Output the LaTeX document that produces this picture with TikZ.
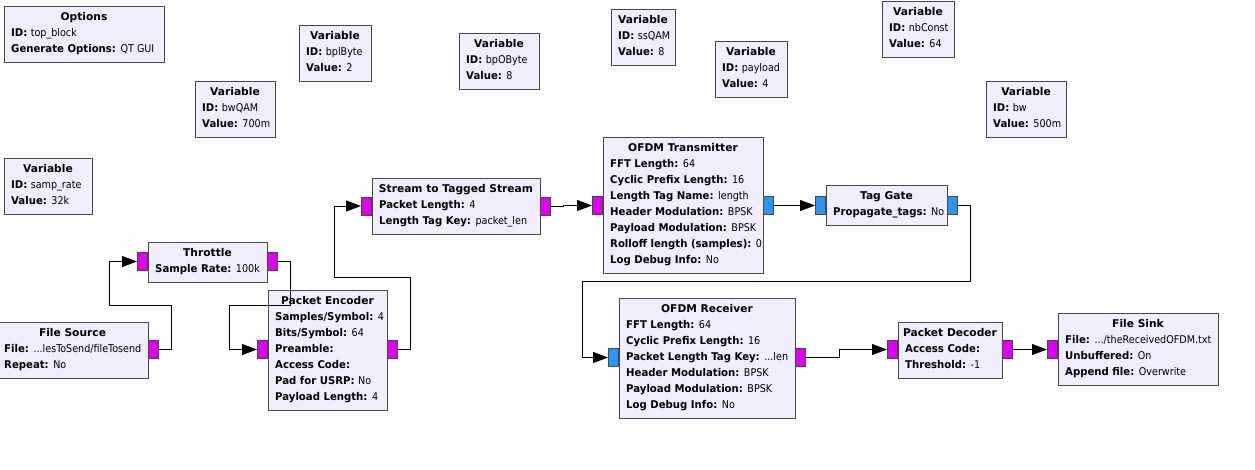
\documentclass[tikz,border=0pt]{standalone}
\usepackage{fontspec}
\setmainfont{DejaVu Sans}
\newfontfamily\valfont{DejaVu Sans Condensed}
\newfontfamily\keyfont{DejaVu Sans}[FakeStretch=0.95]
\usetikzlibrary{arrows.meta}
\definecolor{blkfill}{HTML}{F1EDFF}
\definecolor{blkline}{HTML}{474747}
\definecolor{byteport}{HTML}{DD00EE}
\definecolor{cplxport}{HTML}{2B96F0}
\tikzset{
  blk/.style={draw=blkline, line width=1pt, fill=blkfill, inner sep=0pt},
  ttl/.style={anchor=base, inner sep=0pt, font=\fontsize{10.67pt}{16pt}\selectfont\bfseries},
  bdy/.style={anchor=north west, inner sep=0pt, align=left, font=\fontsize{10.67pt}{16pt}\selectfont},
  port/.style={draw=blkline, line width=1pt, minimum width=10pt, minimum height=18pt, inner sep=0pt},
  bport/.style={port, fill=byteport},
  cport/.style={port, fill=cplxport},
  conn/.style={draw=black, line width=1pt, -{Triangle[length=15pt,width=11pt]}},
}
\newcommand\grcblk[7]{%
  \node[blk, minimum width=#4pt, minimum height=#5pt] (#1) at (#2+#4/2, #3+#5/2) {};
  \node[ttl] (#1-t) at (#2+#4/2, #3+14.5) {#6};
  \node[bdy] (#1-b) at (#2+7, #3+18.5) {\rule{0pt}{12pt}#7};
}
\newcommand\kk[1]{{\keyfont\bfseries #1:}}
\newcommand\kv[2]{\kk{#1} {\valfont #2}}
\begin{document}
\begin{tikzpicture}[x=1pt, y=-1pt]
\useasboundingbox (0,0) rectangle (1255,469);
\fill[white] (0,0) rectangle (1255,469);

% variables / options
\grcblk{opt}{4}{6}{160}{56}{Options}{\kv{ID}{top\_block}\\\kv{Generate Options}{QT GUI}}
\grcblk{vbpl}{299}{25}{72}{56}{Variable}{\kv{ID}{bplByte}\\\kv{Value}{2}}
\grcblk{vbwq}{195}{81}{80}{56}{Variable}{\kv{ID}{bwQAM}\\\kv{Value}{700m}}
\grcblk{vsr}{4}{158}{88}{56}{Variable}{\kv{ID}{samp\_rate}\\\kv{Value}{32k}}
\grcblk{vbpo}{459}{33}{80}{56}{Variable}{\kv{ID}{bpOByte}\\\kv{Value}{8}}
\grcblk{vss}{611}{9}{64}{56}{Variable}{\kv{ID}{ssQAM}\\\kv{Value}{8}}
\grcblk{vpl}{715}{41}{72}{56}{Variable}{\kv{ID}{payload}\\\kv{Value}{4}}
\grcblk{vnb}{882}{1}{72}{56}{Variable}{\kv{ID}{nbConst}\\\kv{Value}{64}}
\grcblk{vbw}{986}{81}{80}{56}{Variable}{\kv{ID}{bw}\\\kv{Value}{500m}}

% processing blocks
\grcblk{fs}{-3}{322}{151}{56}{File Source}{\kv{File}{...lesToSend/fileTosend}\\\kv{Repeat}{No}}
\grcblk{thr}{148}{242}{119}{40}{Throttle}{\kv{Sample Rate}{100k}}
\grcblk{pe}{268}{290}{119}{120}{Packet Encoder}{\kv{Samples/Symbol}{4}\\\kv{Bits/Symbol}{64}\\\kk{Preamble}\\\kk{Access Code}\\\kv{Pad for USRP}{No}\\\kv{Payload Length}{4}}
\grcblk{st}{372}{178}{168}{56}{Stream to Tagged Stream}{\kv{Packet Length}{4}\\\kv{Length Tag Key}{packet\_len}}
\grcblk{tx}{603}{137}{160}{136}{OFDM Transmitter}{\kv{FFT Length}{64}\\\kv{Cyclic Prefix Length}{16}\\\kv{Length Tag Name}{length}\\\kv{Header Modulation}{BPSK}\\\kv{Payload Modulation}{BPSK}\\\kv{Rolloff length (samples)}{0}\\\kv{Log Debug Info}{No}}
\grcblk{tg}{826}{185}{121}{40}{Tag Gate}{\kv{Propagate\_tags}{No}}
\grcblk{rx}{619}{298}{176}{120}{OFDM Receiver}{\kv{FFT Length}{64}\\\kv{Cyclic Prefix Length}{16}\\\kv{Packet Length Tag Key}{...len}\\\kv{Header Modulation}{BPSK}\\\kv{Payload Modulation}{BPSK}\\\kv{Log Debug Info}{No}}
\grcblk{pd}{898}{322}{104}{56}{Packet Decoder}{\kk{Access Code}\\\kv{Threshold}{-1}}
\grcblk{fk}{1058}{313}{160}{72}{File Sink}{\kv{File}{.../theReceivedOFDM.txt}\\\kv{Unbuffered}{On}\\\kv{Append file}{Overwrite}}

% ports
\node[bport, anchor=west] (fso) at (148,349.5) {};
\node[bport, anchor=east] (thri) at (148,261.5) {};
\node[bport, anchor=west] (thro) at (267,261.5) {};
\node[bport, anchor=east] (pei) at (268,349.5) {};
\node[bport, anchor=west] (peo) at (387,349.5) {};
\node[bport, anchor=east] (sti) at (372,206) {};
\node[bport, anchor=west] (sto) at (540,206) {};
\node[bport, anchor=east] (txi) at (603,205.5) {};
\node[cport, anchor=west] (txo) at (763,205.5) {};
\node[cport, anchor=east] (tgi) at (826,205.5) {};
\node[cport, anchor=west] (tgo) at (947,205.5) {};
\node[cport, anchor=east] (rxi) at (619,357.5) {};
\node[bport, anchor=west] (rxo) at (795,357.5) {};
\node[bport, anchor=east] (pdi) at (898,349.5) {};
\node[bport, anchor=west] (pdo) at (1002,349.5) {};
\node[bport, anchor=east] (fki) at (1058,349.5) {};

% connections
\draw[conn] (fso.east) -- ++(12,0) -- ++(0,-44.5) -- ++(-62,0) |- (thri.west);
\draw[conn] (thro.east) -- ++(12,0) -- ++(0,43.5) -- ++(-61,0) |- (pei.west);
\draw[conn] (peo.east) -- ++(12,0) -- ++(0,-72.5) -- ++(-76,0) |- (sti.west);
\draw[conn] (sto.east) -- ++(12,0) |- (txi.west);
\draw[conn] (txo.east) -- (tgi.west);
\draw[conn] (tgo.east) -- ++(12,0) -- ++(0,75.5) -- ++(-388,0) |- (rxi.west);
\draw[conn] (rxo.east) -- ++(33,0) |- (pdi.west);
\draw[conn] (pdo.east) -- (fki.west);
\end{tikzpicture}
\end{document}
